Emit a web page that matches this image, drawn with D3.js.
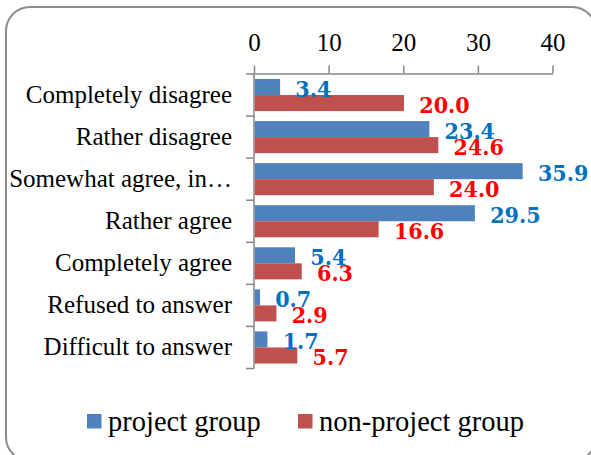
<!DOCTYPE html>
<html>
<head>
<meta charset="utf-8">
<script src="https://cdn.jsdelivr.net/npm/d3@7"></script>
<style>
  body { margin: 0; background: #fff; }
  svg { display: block; }
</style>
</head>
<body>
<div id="chart"></div>
<script>
const categories = ["Completely disagree", "Rather disagree", "Somewhat agree, in…", "Rather agree", "Completely agree", "Refused to answer", "Difficult to answer"];
const seriesNames = ["project group", "non-project group"];
const projectGroup = [3.4, 23.4, 35.9, 29.5, 5.4, 0.7, 1.7];
const nonProjectGroup = [20.0, 24.6, 24.0, 16.6, 6.3, 2.9, 5.7];
const xTicks = [0, 10, 20, 30, 40];

const barColors = ["#4F81BD", "#C0504D"];
const labelColors = ["#0070C0", "#FF0000"];
const serif = "'Liberation Serif', 'Times New Roman', serif";
const labelFont = "'DejaVu Serif Condensed', 'DejaVu Serif', serif";

const W = 591, H = 455;
const svg = d3.select("#chart").append("svg").attr("width", W).attr("height", H);

// chart frame
svg.append("rect")
  .attr("x", 6).attr("y", 7).attr("width", 590).attr("height", 454)
  .attr("rx", 24).attr("ry", 24)
  .attr("fill", "#fff").attr("stroke", "#8c8c8c").attr("stroke-width", 2);

const x = d3.scaleLinear().domain([0, 40]).range([254, 552.5]);
const y = d3.scaleBand().domain(categories).range([74, 368.5]);
const inner = d3.scaleBand().domain(seriesNames).range([5, y.bandwidth() - 5]);

const rows = categories.map((c, i) => ({ cat: c, values: [projectGroup[i], nonProjectGroup[i]] }));

// top axis
svg.append("g")
  .attr("transform", "translate(0,73.5)")
  .call(d3.axisTop(x).tickValues(xTicks).tickSize(8).tickSizeOuter(0).tickPadding(15))
  .call(g => g.select(".domain").attr("stroke", "#868686").attr("stroke-width", 1.5))
  .call(g => g.selectAll(".tick line").attr("stroke", "#868686").attr("stroke-width", 1.5))
  .call(g => g.selectAll(".tick text").attr("fill", "#000").style("font-family", serif).style("font-size", "25px"));

// left axis (band boundaries)
const bounds = categories.map(c => y(c)).concat([y.range()[1]]);
svg.append("line")
  .attr("x1", 254).attr("x2", 254).attr("y1", 73.5).attr("y2", bounds[bounds.length - 1])
  .attr("stroke", "#868686").attr("stroke-width", 1.5);
svg.selectAll(".ytick").data(bounds).join("line")
  .attr("class", "ytick")
  .attr("x1", 246).attr("x2", 254)
  .attr("y1", d => d).attr("y2", d => d)
  .attr("stroke", "#868686").attr("stroke-width", 1.5);

// category labels
svg.selectAll(".cat").data(categories).join("text")
  .attr("class", "cat")
  .attr("x", 232)
  .attr("y", d => y(d) + y.bandwidth() / 2 + 8)
  .attr("text-anchor", "end")
  .style("font-family", serif).style("font-size", "25px")
  .text(d => d);

// bars
const grp = svg.selectAll(".row").data(rows).join("g")
  .attr("class", "row")
  .attr("transform", d => `translate(0,${y(d.cat)})`);

grp.selectAll("rect").data(d => d.values.map((v, j) => ({ v, j }))).join("rect")
  .attr("x", x(0) + 0.75)
  .attr("y", d => inner(seriesNames[d.j]))
  .attr("width", d => x(d.v) - x(0))
  .attr("height", inner.bandwidth())
  .attr("fill", d => barColors[d.j]);

grp.selectAll("text").data(d => d.values.map((v, j) => ({ v, j }))).join("text")
  .attr("x", d => x(d.v) + 16)
  .attr("y", d => inner(seriesNames[d.j]) + inner.bandwidth() / 2 + 9.5)
  .attr("fill", d => labelColors[d.j])
  .style("font-family", labelFont).style("font-stretch", "condensed")
  .style("font-weight", "bold").style("font-size", "23px")
  .text(d => d.v.toFixed(1));

// legend
const legendX = [87, 298];
const leg = svg.selectAll(".leg").data(seriesNames).join("g")
  .attr("class", "leg")
  .attr("transform", (d, i) => `translate(${legendX[i]},414)`);
leg.append("rect").attr("width", 14.5).attr("height", 14.5).attr("fill", (d, i) => barColors[i]);
leg.append("text")
  .attr("x", 21).attr("y", 17)
  .style("font-family", serif).style("font-size", "28.5px")
  .text(d => d);
</script>
</body>
</html>
